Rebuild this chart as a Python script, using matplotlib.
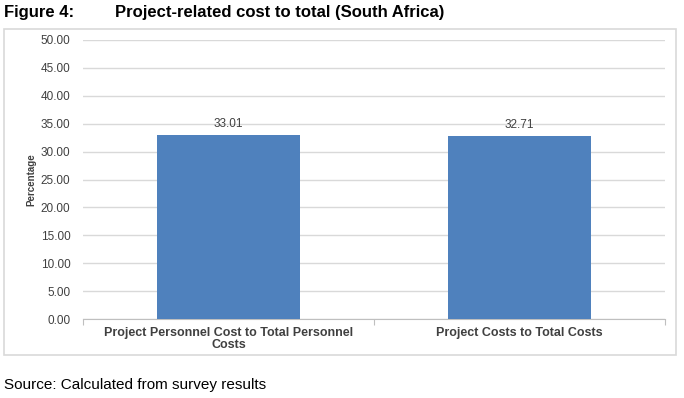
import matplotlib.pyplot as plt
from matplotlib.patches import Rectangle

plt.rcParams['font.family'] = ['Liberation Sans', 'DejaVu Sans']

categories = ['Project Personnel Cost to Total Personnel\nCosts', 'Project Costs to Total Costs']
values = [33.01, 32.71]
yticks = [0, 5, 10, 15, 20, 25, 30, 35, 40, 45, 50]

W, H = 684, 398
fig = plt.figure(figsize=(W / 100, H / 100), dpi=100)

# rama wokół wykresu
fig.add_artist(Rectangle((4 / W, 1 - 355 / H), 672 / W, 326 / H, transform=fig.transFigure,
                         facecolor='none', edgecolor='#D9D9D9', linewidth=1.2))

ax = fig.add_axes([83 / W, 1 - 319 / H, 582 / W, 279 / H])
x = range(len(categories))
bars = ax.bar(x, values, width=0.49, color='#4F81BD', zorder=3)
for b, v in zip(bars, values):
    ax.text(b.get_x() + b.get_width() / 2, v + 0.9, f'{v:.2f}', ha='center', va='bottom',
            fontsize=8.5, color='#404040')

ax.set_xlim(-0.5, len(categories) - 0.5)
ax.set_ylim(0, 50)
ax.set_yticks(yticks)
ax.set_yticklabels([f'{t:.2f}' for t in yticks], fontsize=8.5, color='#404040')
ax.tick_params(axis='y', length=0, pad=9)
ax.grid(axis='y', color='#D9D9D9', linewidth=1, zorder=0)

ax.set_xticks([-0.5, 0.5, 1.5], minor=False)
ax.set_xticklabels([])
ax.tick_params(axis='x', length=4, color='#BFBFBF')
for i, c in enumerate(categories):
    ax.text(i, -1.4, c, ha='center', va='top', fontsize=9, fontweight='bold', color='#404040',
            linespacing=1.0)

for s in ['top', 'right', 'left']:
    ax.spines[s].set_visible(False)
ax.spines['bottom'].set_color('#BFBFBF')

ax.set_ylabel('Percentage', fontsize=7, fontweight='bold', color='#404040')
ax.yaxis.set_label_coords(-0.08, 0.5)

fig.text(4 / W, 1 - 13 / H, 'Figure 4:', fontsize=12, fontweight='bold', va='center',
         family=['Liberation Sans Narrow', 'Liberation Sans'])
fig.text(115 / W, 1 - 13 / H, 'Project-related cost to total (South Africa)', fontsize=12,
         fontweight='bold', va='center', family=['Liberation Sans Narrow', 'Liberation Sans'])
fig.text(4 / W, 1 - 385 / H, 'Source: Calculated from survey results', fontsize=11, va='center',
         family=['Liberation Sans Narrow', 'Liberation Sans'])

fig.savefig('out.png', dpi=100)
